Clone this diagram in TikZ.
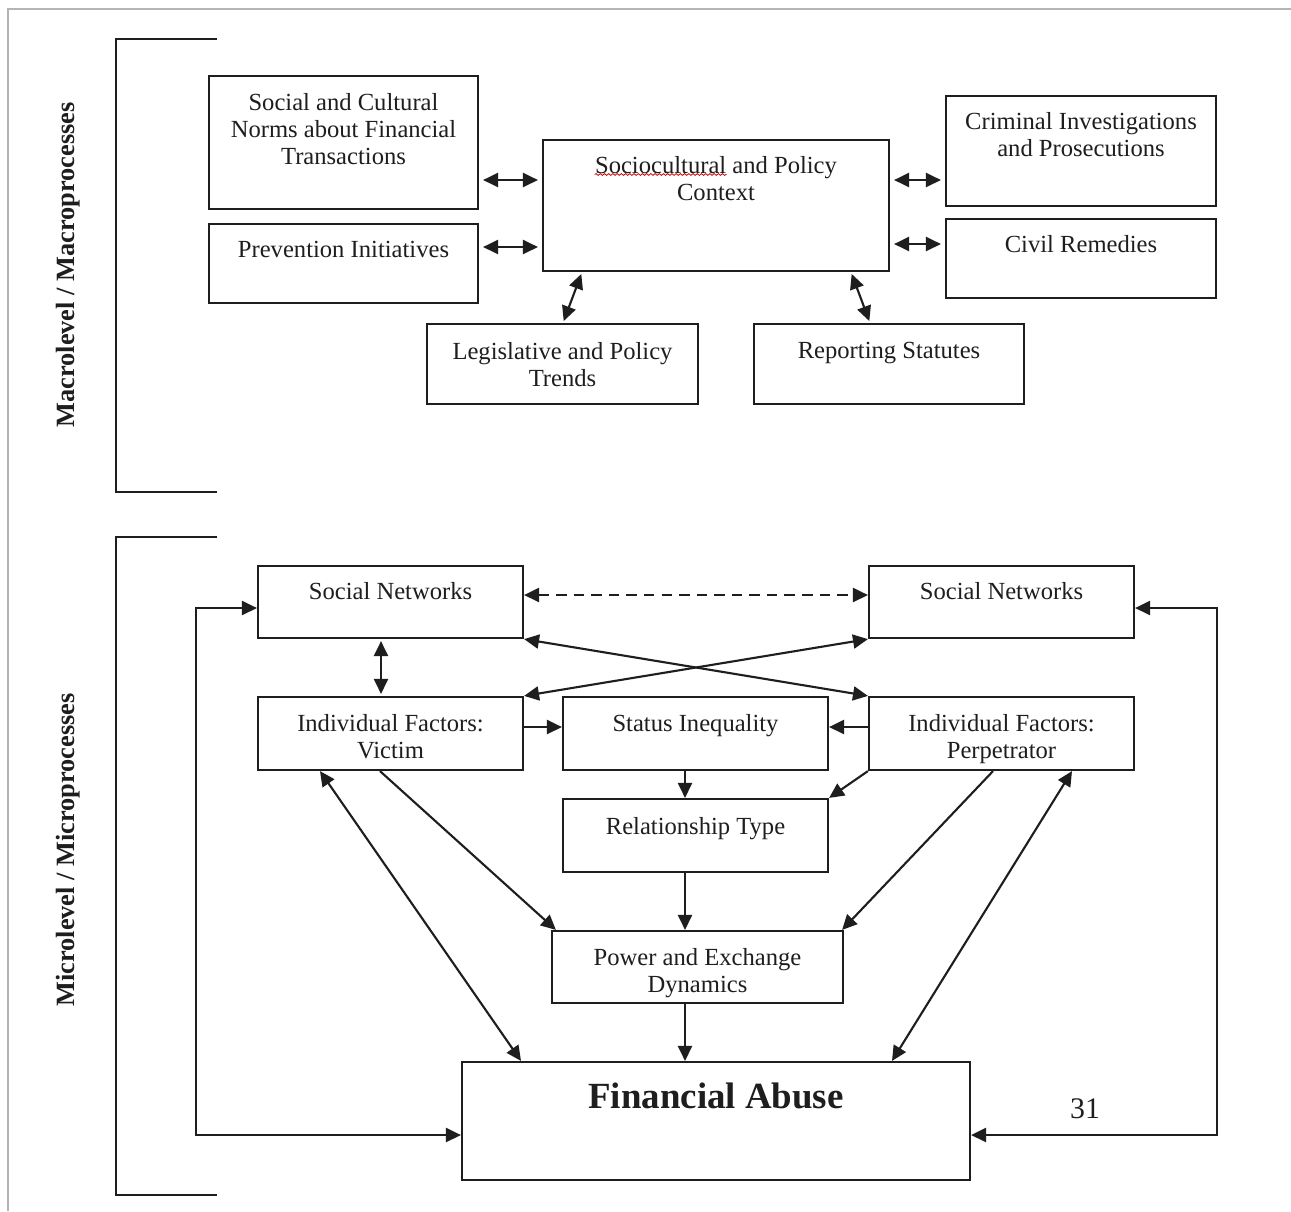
\documentclass[tikz,border=0pt]{standalone}
\usepackage{fontspec}
\setmainfont{Liberation Serif}
\usetikzlibrary{arrows.meta,fit,decorations.pathmorphing}
\definecolor{ink}{RGB}{30,30,30}
\definecolor{framegrey}{RGB}{180,180,180}
\newcommand\mkbox[5]{%
  \path (#2,#3) coordinate (#1-a) (#4,#5) coordinate (#1-b);
  \node[box, fit=(#1-a)(#1-b)] (#1) {};}
\begin{document}
\begin{tikzpicture}[x=0.02cm,y=-0.02cm,
  box/.style={draw=ink,line width=1.25pt,inner sep=0pt},
  lbl/.style={anchor=north,inner sep=0pt,align=center,text=ink,font=\fontsize{14}{15.3}\selectfont},
  side/.style={rotate=90,inner sep=0pt,text=ink,font=\fontsize{15}{18}\selectfont\bfseries},
  conn/.style={draw=ink,line width=1.2pt},
  >={Triangle[length=8.5pt,width=8pt]},
  gap/.style={shorten <=0.08cm,shorten >=0.08cm},
  squig/.style={draw=red!80!black,line width=0.45pt,decorate,decoration={snake,amplitude=0.5pt,segment length=2.4pt}},
  brk/.style={draw=ink,line width=1.25pt}]
\useasboundingbox (0,0) rectangle (1291,1211);
\fill[white] (0,0) rectangle (1291,1211);
% outer faint frame
\draw[framegrey,line width=0.6pt] (8,1211) -- (8,9) -- (1291,9);

% brackets
\draw[brk] (217,39) -- (116,39) -- (116,492) -- (217,492);
\draw[brk] (217,537) -- (116,537) -- (116,1195) -- (217,1195);
\node[side] (macro) at (68,265) {Macrolevel / Macroprocesses};
\node[side] (micro) at (68,850) {Microlevel / Microprocesses};

% ---------- macro boxes ----------
\mkbox{norms}{209}{76}{478}{209}
\node[lbl] (norms-t) at (343.5,93) {Social and Cultural\\Norms about Financial\\Transactions};
\mkbox{prev}{209}{224}{478}{303}
\node[lbl] (prev-t) at (343.5,241) {Prevention Initiatives};
\mkbox{ctx}{543}{140}{889}{271}
\node[lbl] (ctx-t) at (716,156) {Sociocultural and Policy\\Context};
\draw[squig] ([yshift=-0.37cm]ctx-t.north west) -- ++(132,0);
\mkbox{crim}{946}{96}{1216}{206}
\node[lbl] (crim-t) at (1081,112) {Criminal Investigations\\and Prosecutions};
\mkbox{civil}{946}{219}{1216}{298}
\node[lbl] (civil-t) at (1081,235) {Civil Remedies};
\mkbox{legis}{427}{324}{698}{404}
\node[lbl] (legis-t) at (562.5,342) {Legislative and Policy\\Trends};
\mkbox{report}{754}{324}{1024}{404}
\node[lbl] (report-t) at (889,342) {Reporting Statutes};

% macro connectors
\draw[conn,<->,gap] (norms.east |- 0,180) -- (ctx.west |- 0,180);
\draw[conn,<->,gap] (prev.east |- 0,247) -- (ctx.west |- 0,247);
\draw[conn,<->,gap] (ctx.east |- 0,180) -- (crim.west |- 0,180);
\draw[conn,<->,gap] (ctx.east |- 0,244) -- (civil.west |- 0,244);
\draw[conn,<->,shorten <=0.04cm,shorten >=0.04cm] (ctx.south -| 582,0) -- (legis.north -| 563,0);
\draw[conn,<->,shorten <=0.04cm,shorten >=0.04cm] (ctx.south -| 851,0) -- (report.north -| 870,0);

% ---------- micro boxes ----------
\mkbox{snl}{258}{566}{523}{638}
\node[lbl] (snl-t) at (390.5,582) {Social Networks};
\mkbox{snr}{869}{566}{1134}{638}
\node[lbl] (snr-t) at (1001.5,582) {Social Networks};
\mkbox{ifv}{258}{697}{523}{770}
\node[lbl] (ifv-t) at (390.5,714) {Individual Factors:\\Victim};
\mkbox{stat}{563}{697}{828}{770}
\node[lbl] (stat-t) at (695.5,714) {Status Inequality};
\mkbox{ifp}{869}{697}{1134}{770}
\node[lbl] (ifp-t) at (1001.5,714) {Individual Factors:\\Perpetrator};
\mkbox{rel}{563}{799}{828}{872}
\node[lbl] (rel-t) at (695.5,817) {Relationship Type};
\mkbox{pow}{552}{931}{843}{1003}
\node[lbl] (pow-t) at (697.5,948) {Power and Exchange\\Dynamics};
\mkbox{fa}{462}{1062}{970}{1180}
\node[lbl,font=\fontsize{21}{24}\selectfont\bfseries] (fa-t) at (716,1083) {Financial Abuse};
\node[inner sep=0pt,text=ink,font=\fontsize{17}{20}\selectfont] (page) at (1085,1109) {31};

% micro connectors
\draw[conn,<->,dashed,dash pattern=on 6pt off 4pt] (snl.east |- 0,595) -- (snr.west |- 0,595);
\draw[conn,<->,shorten <=0.04cm,shorten >=0.04cm] (snl.south -| 381,0) -- (ifv.north -| 381,0);
\draw[conn,<->] (snr.south west) -- (ifv.north east);
\draw[conn,<->] (snl.south east) -- (ifp.north west);
\draw[conn,->] (ifv.east |- 0,727) -- (stat.west |- 0,727);
\draw[conn,->] (ifp.west |- 0,727) -- (stat.east |- 0,727);
\draw[conn,->] (stat.south -| 685,0) -- (rel.north -| 685,0);
\draw[conn,->] (ifp.south west) -- (rel.north east);
\draw[conn,->] (rel.south -| 685,0) -- (pow.north -| 685,0);
\draw[conn,->] (ifv.south -| 380,0) -- ([xshift=0.1cm]pow.north west);
\draw[conn,->] (ifp.south -| 993,0) -- ([xshift=-0.04cm]pow.north east);
\draw[conn,<->] (ifv.south -| 320,0) -- (fa.north -| 521,0);
\draw[conn,<->] (ifp.south -| 1072,0) -- (fa.north -| 892,0);
\draw[conn,->] (pow.south -| 685,0) -- (fa.north -| 685,0);
\draw[conn,<->] (snl.west |- 0,608) -- ++(-61,0) |- (fa.west |- 0,1135);
\draw[conn,<->] (snr.east |- 0,608) -- ++(82,0) |- (fa.east |- 0,1135);
\end{tikzpicture}
\end{document}
